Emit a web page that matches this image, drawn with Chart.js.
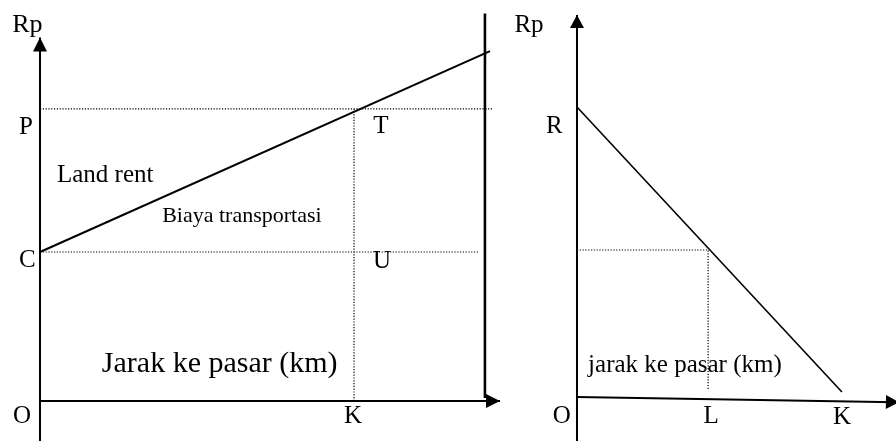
<!DOCTYPE html>
<html>
<head>
<meta charset="utf-8">
<script src="https://cdn.jsdelivr.net/npm/chart.js@4/dist/chart.umd.min.js"></script>
<style>
  body { margin: 0; background: #fff; }
  canvas { position: absolute; top: 0; }
  #left { left: 0; }
  #right { left: 510px; }
</style>
</head>
<body>
<canvas id="left" width="510" height="441"></canvas>
<canvas id="right" width="386" height="441"></canvas>
<script>
// kiri: biaya transportasi terhadap jarak ke pasar
const leftDist = [0, 14.33];
const leftCost = [5, 11.74];
const levelP = 9.8;
const levelC = 5;
const distK = 10;
const edgeDist = 14.17;

// kanan: land rent turun sampai K
const rightDist = [0, 10];
const rightRent = [10, 0.17];
const distL = 4.95;
const rentAtL = 5.07;

const FONT = "'Liberation Serif', 'DejaVu Serif', serif";

function pts(xs, ys) {
    return xs.map((x, i) => ({ x: x, y: ys[i] }));
}

function seg(data, width, dotted, arrow) {
    return {
        data: data,
        showLine: true,
        borderColor: '#000',
        borderWidth: width,
        borderDash: dotted ? [1.2, 1.6] : [],
        pointRadius: 0,
        clip: false,
        arrow: arrow || false
    };
}

// draws arrowheads and text labels on top of the lines
function decorPlugin(labels, headLen, headHalf) {
    return {
        id: 'decor',
        afterDatasetsDraw(chart) {
            const ctx = chart.ctx;
            ctx.save();
            chart.data.datasets.forEach((ds, i) => {
                if (!ds.arrow) return;
                const el = chart.getDatasetMeta(i).data;
                const a = el[el.length - 2], b = el[el.length - 1];
                const ang = Math.atan2(b.y - a.y, b.x - a.x);
                ctx.fillStyle = '#000';
                ctx.beginPath();
                ctx.moveTo(b.x, b.y);
                ctx.lineTo(b.x - headLen * Math.cos(ang) + headHalf * Math.sin(ang),
                           b.y - headLen * Math.sin(ang) - headHalf * Math.cos(ang));
                ctx.lineTo(b.x - headLen * Math.cos(ang) - headHalf * Math.sin(ang),
                           b.y - headLen * Math.sin(ang) + headHalf * Math.cos(ang));
                ctx.closePath();
                ctx.fill();
            });
            const sx = chart.scales.x, sy = chart.scales.y;
            ctx.fillStyle = '#000';
            ctx.textBaseline = 'alphabetic';
            labels.forEach(l => {
                ctx.font = l.size + 'px ' + FONT;
                ctx.textAlign = l.align || 'center';
                ctx.fillText(l.text, sx.getPixelForValue(l.x), sy.getPixelForValue(l.y));
            });
            ctx.restore();
        }
    };
}

function baseOptions(xmin, xmax, ymin, ymax) {
    return {
        responsive: false,
        animation: false,
        layout: { padding: 0 },
        plugins: { legend: { display: false }, tooltip: { enabled: false } },
        scales: {
            x: { type: 'linear', display: false, min: xmin, max: xmax },
            y: { type: 'linear', display: false, min: ymin, max: ymax }
        }
    };
}

const leftLabels = [
    { text: 'Rp', x: -0.40, y: 12.39, size: 26 },
    { text: 'P', x: -0.45, y: 8.96, size: 25 },
    { text: 'T', x: 10.86, y: 8.99, size: 25 },
    { text: 'Land rent', x: 0.54, y: 7.35, size: 25, align: 'left' },
    { text: 'Biaya transportasi', x: 3.89, y: 6.02, size: 22, align: 'left' },
    { text: 'C', x: -0.40, y: 4.49, size: 25 },
    { text: 'U', x: 10.89, y: 4.46, size: 25 },
    { text: 'Jarak ke pasar (km)', x: 1.97, y: 0.98, size: 30, align: 'left' },
    { text: 'O', x: -0.57, y: -0.74, size: 25 },
    { text: 'K', x: 9.97, y: -0.74, size: 25 }
];

new Chart(document.getElementById('left'), {
    type: 'scatter',
    data: {
        datasets: [
            seg([{ x: 0, y: -1.35 }, { x: 0, y: 12.2 }], 2, false, true),
            seg([{ x: 0, y: 0 }, { x: 14.65, y: 0 }], 2, false, true),
            seg([{ x: edgeDist, y: 0.1 }, { x: edgeDist, y: 13.0 }], 2.6),
            seg(pts(leftDist, leftCost), 2),
            seg([{ x: 0, y: levelP }, { x: 14.4, y: levelP }], 1.2, true),
            seg([{ x: 0, y: levelC }, { x: 14.0, y: levelC }], 1.2, true),
            seg([{ x: distK, y: 0 }, { x: distK, y: levelP }], 1.2, true)
        ]
    },
    options: baseOptions(-1.274, 14.968, -1.342, 13.456),
    plugins: [decorPlugin(leftLabels, 14, 7)]
});

const rightLabels = [
    { text: 'Rp', x: -1.81, y: 12.6, size: 25 },
    { text: 'R', x: -0.85, y: 9.09, size: 25 },
    { text: 'jarak ke pasar (km)', x: 0.42, y: 0.87, size: 25, align: 'left' },
    { text: 'O', x: -0.57, y: -0.90, size: 25 },
    { text: 'L', x: 5.06, y: -0.90, size: 25 },
    { text: 'K', x: 10.0, y: -0.93, size: 25 }
];

new Chart(document.getElementById('right'), {
    type: 'scatter',
    data: {
        datasets: [
            seg([{ x: 0, y: -1.52 }, { x: 0, y: 13.17 }], 2, false, true),
            seg([{ x: 0, y: 0 }, { x: 12.15, y: -0.18 }], 2, false, true),
            seg(pts(rightDist, rightRent), 1.6),
            seg([{ x: 0, y: rentAtL }, { x: distL, y: rentAtL }], 1.2, true),
            seg([{ x: distL, y: 0.28 }, { x: distL, y: rentAtL }], 1.2, true)
        ]
    },
    options: baseOptions(-2.528, 12.04, -1.517, 13.69),
    plugins: [decorPlugin(rightLabels, 13, 7)]
});
</script>
</body>
</html>
